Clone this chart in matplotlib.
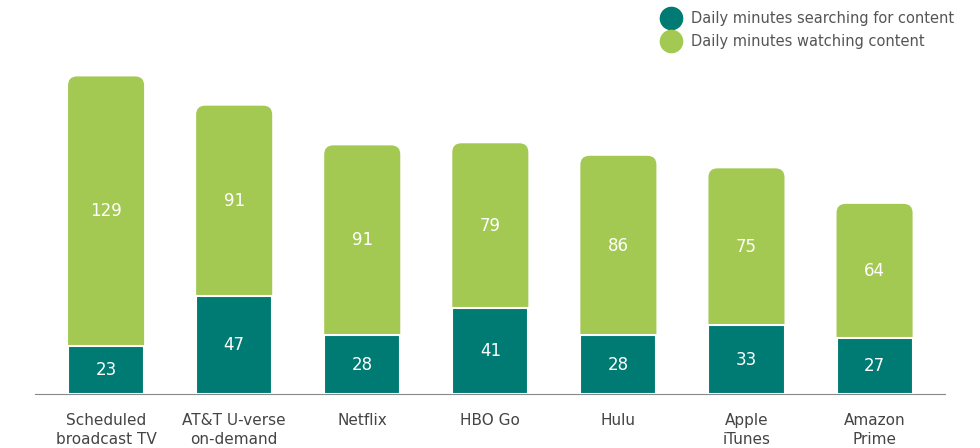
import matplotlib
matplotlib.use("Agg")
import matplotlib.pyplot as plt
from matplotlib.patches import FancyBboxPatch
from matplotlib.lines import Line2D

categories = ["Scheduled\nbroadcast TV", "AT&T U-verse\non-demand", "Netflix", "HBO Go",
              "Hulu", "Apple\niTunes", "Amazon\nPrime"]
searching = [23, 47, 28, 41, 28, 33, 27]
watching = [129, 91, 91, 79, 86, 75, 64]

dark = "#007b73"
light = "#a3c953"

fig = plt.figure(figsize=(9.8, 4.48), dpi=100)
ax = fig.add_axes([35/980, 54/448, 910/980, 374/448])
ax.set_xlim(-0.555, 6.55)
ax.set_ylim(0, 179)

w = 76/128
px_x = 1/128
px_y = 1/2.086
r = 9 * px_x
for i, (s, t) in enumerate(zip(searching, watching)):
    tot = s + t
    p = FancyBboxPatch((i - w/2, 0), w, tot,
                       boxstyle=f"round,pad=0,rounding_size={r}",
                       mutation_aspect=px_y/px_x, fc=light, ec="none", zorder=2)
    ax.add_patch(p)
    ax.bar(i, s, width=w, color=dark, edgecolor="white", linewidth=1.5, zorder=3)
    ax.text(i, s/2, str(s), ha="center", va="center", color="white", fontsize=12, zorder=4)
    ax.text(i, s + t/2, str(t), ha="center", va="center", color="white", fontsize=12, zorder=4)

for sp in ["top", "right", "left"]:
    ax.spines[sp].set_visible(False)
ax.spines["bottom"].set_color("#888888")
ax.set_yticks([])
ax.set_xticks(range(len(categories)))
ax.set_xticklabels(categories, fontsize=11, color="#444444", linespacing=1.3)
ax.tick_params(axis="x", length=0, pad=14)

handles = [Line2D([], [], marker="o", ls="", ms=16, color=dark),
           Line2D([], [], marker="o", ls="", ms=16, color=light)]
fig.legend(handles, ["Daily minutes searching for content", "Daily minutes watching content"],
           loc="upper left", bbox_to_anchor=(643/980, 1.005), frameon=False, fontsize=10.5,
           labelcolor="#555555", handletextpad=0.4, labelspacing=0.55)

fig.savefig("out.png", dpi=100)
